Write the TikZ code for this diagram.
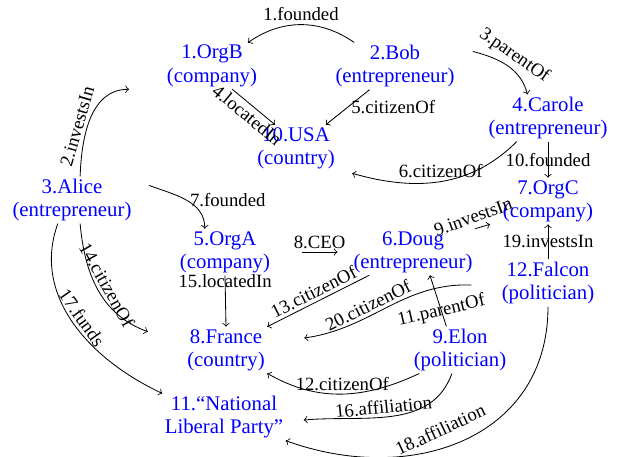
\documentclass[tikz,border=0pt]{standalone}
\usepackage{fontspec}
\setmainfont{Liberation Serif}
\begin{document}
\begin{tikzpicture}[x=0.4808pt, y=-0.4808pt, >=to]
    \tikzset{
        ent/.style={text=blue, align=center, inner sep=1pt, font=\fontsize{10}{11.2}\selectfont},
        rel/.style={font=\fontsize{9}{10}\selectfont, inner sep=1.5pt}
    }
    \useasboundingbox (0,0) rectangle (621,456);

        \node[ent] (orgb)   at (212,66)  {1.OrgB\\(company)};
        \node[ent] (bob)    at (395,66)  {2.Bob\\(entrepreneur)};
        \node[ent] (alice)  at (72,200)  {3.Alice\\(entrepreneur)};
        \node[ent] (carole) at (548,118) {4.Carole\\(entrepreneur)};
        \node[ent] (orga)   at (225,252) {5.OrgA\\(company)};
        \node[ent] (doug)   at (413,252) {6.Doug\\(entrepreneur)};
        \node[ent] (orgc)   at (548,201) {7.OrgC\\(company)};
        \node[ent] (france) at (226,350) {8.France\\(country)};
        \node[ent] (elon)   at (460,350) {9.Elon\\(politician)};
        \node[ent] (usa)    at (296,148) {10.USA\\(country)};
        \node[ent] (party)  at (224,417) {11.“National\\Liberal Party”};
        \node[ent] (falcon) at (548,283) {12.Falcon\\(politician)};

        \draw[->] (bob.150) to[bend right=35] node[rel, above] {1.founded} (orgb.33);
        \draw[->] (alice.71) to[out=88, in=180] node[rel, sloped, above, pos=0.4] {2.investsIn} ([xshift=-17pt]orgb.south west);
        \draw[->] ([shift={(16,9)}]bob.north east) to[out=-15, in=105] node[rel, sloped, above] {3.parentOf} (carole.131);
        \draw[->] (orgb.-49) -- node[rel, sloped, below] {4.locatedIn} (usa.132);
        \draw[->] (bob.223) -- node[rel, right] {5.citizenOf} (usa.38);
        \draw[->] (carole.217) to[out=225, in=-16] node[rel, above] {6.citizenOf} ([shift={(15,2)}]usa.south east);
        \draw[->] ([shift={(15,9)}]alice.north east) to[out=-20, in=90] node[rel, right] {7.founded} (orga.131);
        \draw[->] ([xshift=14pt]orga.east) -- node[rel, above] {8.CEO} ([xshift=-6.5pt]doug.west);
        \draw[->] (doug.north east) -- node[rel, pos=0.1, above=1pt, rotate=20] {9.investsIn} ([xshift=-5pt]orgc.south west);
        \draw[->] (carole.south) -- node[rel] {10.founded} (orgc.north);
        \draw[->] (elon.120) -- node[rel, pos=0.3, rotate=13] {11.parentOf} (doug.-54);
        \draw[->] (elon.210) to[out=205, in=-30] node[rel, above] {12.citizenOf} (france.south east);
        \draw[->] (doug.208) -- node[rel, sloped, above] {13.citizenOf} (france.north east);
        \draw[->] (alice.-71) to[out=-85, in=160] node[rel, sloped, above] {14.citizenOf} ([shift={(-37,5)}]france.north west);
        \draw[->] (orga.south) -- node[rel, pos=0.12] {15.locatedIn} (france.north);
        \draw[->] (elon.251) to[out=250, in=5] node[rel, sloped, above, pos=0.55] {16.affiliation} ([shift={(18,3)}]party.east);
        \draw[->] (alice.239) to[out=250, in=155] node[rel, sloped, above, pos=0.5] {17.funds} (party.north west);
        \draw[->] (falcon.south) to[out=-90, in=-20, looseness=1.15] node[rel, pos=0.55, rotate=25, anchor=south, yshift=4pt] {18.affiliation} (party.south east);
        \draw[->] (falcon.north) -- node[rel] {19.investsIn} (orgc.south);
        \draw[->] ([shift={(-28,2)}]falcon.west) to[out=178, in=8] node[rel, sloped, above, pos=0.6] {20.citizenOf} ([shift={(37,-12)}]france.east);

    \end{tikzpicture}
\end{document}
